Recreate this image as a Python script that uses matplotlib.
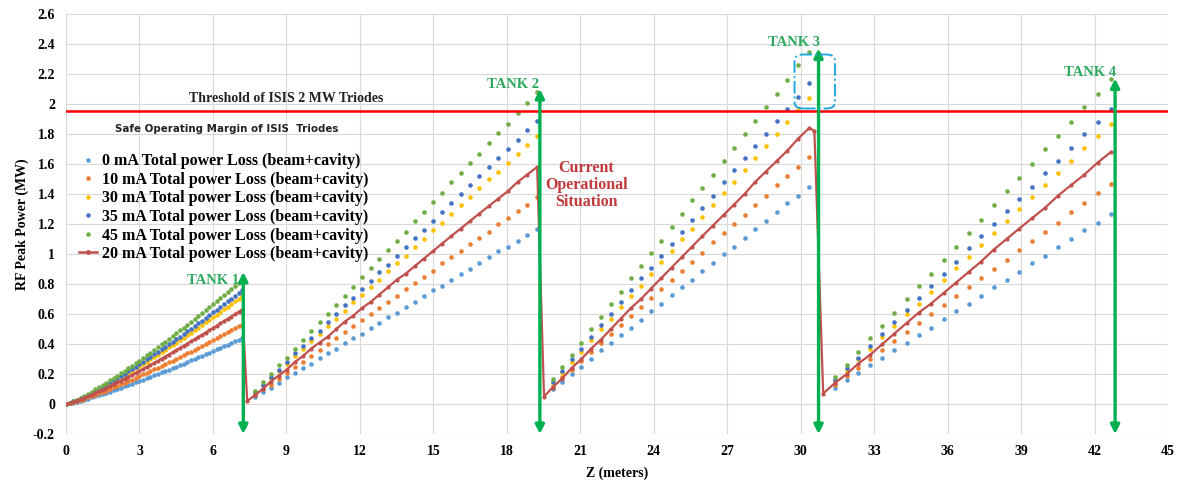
import numpy as np
import matplotlib
matplotlib.use('Agg')
import matplotlib.pyplot as plt
from matplotlib.lines import Line2D
from matplotlib.patches import FancyBboxPatch

plt.rcParams['font.family'] = ['Liberation Serif', 'DejaVu Serif']
plt.rcParams['font.weight'] = 'bold'

# ---------------- data ----------------
labels = ["0 mA Total power Loss (beam+cavity)",
          "10 mA Total power Loss (beam+cavity)",
          "30 mA Total power Loss (beam+cavity)",
          "35 mA Total power Loss (beam+cavity)",
          "45 mA Total power Loss (beam+cavity)",
          "20 mA Total power Loss (beam+cavity)"]

z_t1 = [0.00, 0.15, 0.30, 0.45, 0.60, 0.75, 0.90, 1.05, 1.20, 1.35, 1.50, 1.65, 1.80, 1.95,
        2.10, 2.25, 2.40, 2.55, 2.70, 2.85, 3.00, 3.15, 3.30, 3.45, 3.60, 3.75, 3.90, 4.05,
        4.20, 4.35, 4.50, 4.65, 4.80, 4.95, 5.10, 5.25, 5.40, 5.55, 5.70, 5.85, 6.00, 6.15,
        6.30, 6.45, 6.60, 6.75, 6.90, 7.05, 7.20]
z_t2 = [7.72, 8.04, 8.36, 8.69, 9.02, 9.35, 9.68, 10.02, 10.36, 10.70, 11.04, 11.39, 11.74,
        12.09, 12.44, 12.80, 13.16, 13.52, 13.88, 14.25, 14.62, 14.99, 15.36, 15.74, 16.12,
        16.50, 16.88, 17.27, 17.66, 18.05, 18.44, 18.84, 19.24]
z_t3 = [19.87, 20.26, 20.65, 21.05, 21.45, 21.85, 22.25, 22.66, 23.07, 23.48, 23.89, 24.31,
        24.73, 25.15, 25.57, 25.99, 26.42, 26.85, 27.28, 27.71, 28.14, 28.58, 29.02, 29.46,
        29.90, 30.35]
z_t4 = [31.40, 31.88, 32.36, 32.85, 33.34, 33.83, 34.33, 34.83, 35.33, 35.84, 36.35, 36.86,
        37.37, 37.89, 38.41, 38.93, 39.46, 39.99, 40.52, 41.05, 41.59, 42.13, 42.67]

mA0_t1 = [0, .004, .010, .016, .022, .029, .036, .044, .051, .059, .067, .075, .083, .092,
          .100, .109, .118, .127, .136, .145, .154, .163, .173, .182, .192, .201, .211, .221,
          .230, .240, .250, .260, .270, .281, .291, .301, .312, .322, .332, .343, .354, .364,
          .375, .386, .396, .407, .418, .429, .440]
mA10_t1 = [0, .005, .012, .019, .027, .035, .044, .053, .062, .071, .081, .090, .100, .111,
           .121, .131, .142, .153, .163, .174, .185, .197, .208, .219, .231, .242, .254, .266,
           .278, .289, .302, .314, .326, .338, .350, .363, .375, .388, .400, .413, .426, .439,
           .452, .464, .477, .491, .504, .517, .530]
mA30_t1 = [0, .007, .016, .026, .037, .048, .059, .071, .084, .097, .110, .123, .136, .150,
           .164, .178, .193, .207, .222, .237, .252, .267, .282, .298, .313, .329, .345, .361,
           .377, .393, .410, .426, .443, .459, .476, .493, .510, .527, .544, .561, .579, .596,
           .613, .631, .649, .666, .684, .702, .720]
mA35_t1 = [0, .007, .017, .027, .039, .050, .063, .075, .089, .102, .116, .130, .144, .159,
           .173, .188, .203, .219, .234, .250, .266, .282, .298, .314, .331, .347, .364, .381,
           .398, .415, .432, .450, .467, .485, .502, .520, .538, .556, .574, .592, .611, .629,
           .648, .666, .685, .703, .722, .741, .760]
mA45_t1 = [0, .008, .018, .030, .042, .055, .069, .082, .097, .111, .126, .142, .157, .173,
           .189, .206, .222, .239, .256, .273, .290, .308, .325, .343, .361, .379, .398, .416,
           .435, .453, .472, .491, .510, .530, .549, .568, .588, .607, .627, .647, .667, .687,
           .707, .727, .748, .768, .789, .809, .830]

mA0_t2 = [.05, .08, .11, .14, .18, .21, .24, .27, .31, .34, .37, .41, .44, .47, .51, .54, .58,
          .61, .65, .68, .72, .76, .79, .83, .87, .90, .94, .98, 1.02, 1.05, 1.09, 1.13, 1.17]
mA10_t2 = [.06, .10, .13, .17, .21, .25, .28, .32, .36, .40, .44, .48, .52, .56, .60, .64, .68,
           .72, .77, .81, .85, .89, .94, .98, 1.02, 1.07, 1.11, 1.15, 1.20, 1.24, 1.29, 1.33, 1.38]
mA30_t2 = [.08, .13, .17, .22, .27, .32, .37, .42, .47, .52, .57, .62, .68, .73, .78, .83, .89,
           .94, .99, 1.05, 1.10, 1.16, 1.21, 1.27, 1.33, 1.38, 1.44, 1.50, 1.55, 1.61, 1.67, 1.73, 1.79]
mA35_t2 = [.08, .13, .18, .23, .28, .34, .39, .44, .49, .55, .60, .66, .71, .77, .82, .88, .93,
           .99, 1.05, 1.11, 1.16, 1.22, 1.28, 1.34, 1.40, 1.46, 1.52, 1.58, 1.64, 1.70, 1.76, 1.83, 1.89]
mA45_t2 = [.09, .15, .20, .26, .31, .37, .43, .49, .55, .60, .66, .72, .78, .85, .91, .97, 1.03,
           1.09, 1.15, 1.22, 1.28, 1.35, 1.41, 1.48, 1.54, 1.61, 1.67, 1.74, 1.81, 1.87, 1.94, 2.01, 2.08]

mA0_t3 = [.10, .15, .20, .25, .30, .36, .41, .46, .51, .56, .62, .67, .73, .78, .83, .89, .94,
          1.00, 1.05, 1.11, 1.17, 1.22, 1.28, 1.34, 1.39, 1.45]
mA10_t3 = [.12, .18, .23, .29, .35, .41, .47, .53, .59, .65, .71, .77, .83, .89, .95, 1.01, 1.08,
           1.14, 1.20, 1.26, 1.33, 1.39, 1.46, 1.52, 1.58, 1.65]
mA30_t3 = [.14, .21, .28, .35, .43, .50, .57, .65, .72, .79, .87, .95, 1.02, 1.10, 1.17, 1.25,
           1.33, 1.41, 1.48, 1.56, 1.64, 1.72, 1.80, 1.88, 1.96, 2.04]
mA35_t3 = [.15, .22, .30, .37, .45, .53, .60, .68, .76, .84, .91, .99, 1.07, 1.15, 1.23, 1.31,
           1.39, 1.48, 1.56, 1.64, 1.72, 1.80, 1.89, 1.97, 2.05, 2.14]
mA45_t3 = [.17, .25, .33, .41, .50, .58, .67, .75, .84, .92, 1.01, 1.09, 1.18, 1.27, 1.36, 1.44,
           1.53, 1.62, 1.71, 1.80, 1.89, 1.98, 2.07, 2.16, 2.26, 2.35]

mA0_t4 = [.11, .16, .21, .26, .31, .36, .41, .46, .51, .57, .62, .67, .72, .78, .83, .88, .94,
          .99, 1.05, 1.10, 1.16, 1.21, 1.27]
mA10_t4 = [.13, .19, .24, .30, .36, .42, .48, .54, .60, .66, .72, .78, .84, .90, .96, 1.03, 1.09,
           1.15, 1.21, 1.28, 1.34, 1.41, 1.47]
mA30_t4 = [.15, .22, .30, .37, .45, .52, .60, .67, .75, .83, .91, .98, 1.06, 1.14, 1.22, 1.30,
           1.38, 1.46, 1.54, 1.62, 1.71, 1.79, 1.87]
mA35_t4 = [.16, .24, .31, .39, .47, .55, .63, .71, .79, .87, .95, 1.04, 1.12, 1.20, 1.29, 1.37,
           1.45, 1.54, 1.62, 1.71, 1.80, 1.88, 1.97]
mA45_t4 = [.18, .26, .35, .44, .52, .61, .70, .79, .87, .96, 1.05, 1.14, 1.23, 1.33, 1.42, 1.51,
           1.60, 1.70, 1.79, 1.88, 1.98, 2.07, 2.17]

# 20 mA line (continuous across tanks)
red_z1 = z_t1
red_v1 = [0, .006, .014, .023, .032, .042, .052, .063, .073, .085, .096, .108, .119, .131,
          .144, .156, .169, .181, .194, .207, .220, .234, .247, .261, .274, .288, .302, .316,
          .330, .344, .358, .373, .387, .402, .417, .431, .446, .461, .476, .491, .506, .521,
          .537, .552, .568, .583, .599, .614, .630]
red_z2 = [7.40] + z_t2
red_v2 = [.02, .06, .10, .15, .19, .23, .28, .32, .37, .41, .45, .50, .55, .59, .64, .68, .73,
          .78, .83, .87, .92, .97, 1.02, 1.07, 1.12, 1.17, 1.22, 1.27, 1.32, 1.37, 1.42, 1.48, 1.53, 1.58]
red_z3 = [19.52] + z_t3 + [30.56]
red_v3 = [.05, .11, .17, .24, .30, .37, .43, .50, .57, .64, .70, .77, .84, .91, .98, 1.05, 1.12,
          1.19, 1.26, 1.33, 1.40, 1.48, 1.55, 1.62, 1.69, 1.77, 1.84, 1.82]
red_z4 = [30.92] + z_t4
red_v4 = [.07, .14, .20, .27, .33, .40, .47, .54, .61, .67, .74, .81, .88, .95, 1.03, 1.10, 1.17,
          1.24, 1.31, 1.39, 1.46, 1.53, 1.61, 1.68]

threshold = 1.955
safe_margin = 1.74

# ---------------- figure ----------------
W, H = 1181, 487
fig = plt.figure(figsize=(W / 100, H / 100), dpi=100)
ax = fig.add_axes([66 / W, 1 - 434 / H, (1168 - 66) / W, (434 - 14) / H])

colors = ['#5B9BD5', '#ED7D31', '#FFC000', '#4472C4', '#70AD47']
red_c = '#C0504D'
green_c = '#00B050'

z_all = np.concatenate([z_t1, z_t2, z_t3, z_t4])
series = [
    np.concatenate([mA0_t1, mA0_t2, mA0_t3, mA0_t4]),
    np.concatenate([mA10_t1, mA10_t2, mA10_t3, mA10_t4]),
    np.concatenate([mA30_t1, mA30_t2, mA30_t3, mA30_t4]),
    np.concatenate([mA35_t1, mA35_t2, mA35_t3, mA35_t4]),
    np.concatenate([mA45_t1, mA45_t2, mA45_t3, mA45_t4]),
]
for v, c in zip(series, colors):
    ax.plot(z_all, v, ls='none', marker='o', ms=3.3, mec='none', color=c, zorder=3)

red_z = np.concatenate([red_z1, red_z2, red_z3, red_z4])
red_v = np.concatenate([red_v1, red_v2, red_v3, red_v4])
ax.plot(red_z, red_v, color=red_c, lw=1.6, marker='o', ms=2.0, mec=red_c, zorder=4)

# horizontal reference lines
ax.axhline(threshold, color='#FF0000', lw=1.8, zorder=5)
ax.annotate('', xy=(45.1, safe_margin), xytext=(0.2, safe_margin),
            arrowprops=dict(arrowstyle='<|-|>', color='#3CB95A', lw=1.6,
                            mutation_scale=8, shrinkA=0, shrinkB=0), zorder=5)

ax.text(9.0, 2.04, 'Threshold of ISIS 2 MW Triodes', fontsize=10, ha='center', va='center',
        color='#222222')
ax.text(2.0, 1.835, 'Safe Operating Margin of ISIS  Triodes', fontsize=7.4, ha='left',
        va='center', color='#222222', family=['DejaVu Sans'], fontweight='bold')

# tank arrows
tanks = [(7.24, 0.88, 'TANK 1', 7.05, 0.82),
         (19.35, 2.10, 'TANK 2', 19.3, 2.13),
         (30.73, 2.37, 'TANK 3', 30.8, 2.41),
         (42.84, 2.17, 'TANK 4', 42.9, 2.21)]
for x, top, lab, tx, ty in tanks:
    ax.annotate('', xy=(x, top), xytext=(x, -0.2),
                arrowprops=dict(arrowstyle='<|-|>', color=green_c, lw=2.4,
                                mutation_scale=13, shrinkA=0, shrinkB=0), zorder=6)
    ax.text(tx, ty, lab, color='#2EAA5E', fontsize=10.5, ha='right', va='center', zorder=7)

ax.text(21.24, 1.46, 'Current\nOperational\nSituation', color='#C0393B', fontsize=11.5,
        ha='center', va='center', linespacing=1.05)

box = FancyBboxPatch((29.75, 1.97), 1.65, 0.36, boxstyle='round,pad=0,rounding_size=0.35',
                     mutation_aspect=0.12, fill=False, ec='#1FA8E0', lw=1.4, ls='-.', zorder=6)
ax.add_patch(box)

# axes
ax.set_xlim(0, 45)
ax.set_ylim(-0.2, 2.6)
ax.set_xticks(np.arange(0, 46, 3))
yt = np.round(np.arange(-0.2, 2.61, 0.2), 1)
ax.set_yticks(yt)
ax.set_yticklabels(['%g' % v for v in yt])
ax.grid(True, color='#D9D9D9', lw=0.8, zorder=0)
ax.set_axisbelow(True)
for s in ax.spines.values():
    s.set_visible(False)
ax.tick_params(length=0, labelsize=10, pad=8)
for lab in ax.get_xticklabels() + ax.get_yticklabels():
    lab.set_fontweight('bold')
ax.set_xlabel('Z (meters)', fontsize=10, fontweight='bold', labelpad=6)
ax.set_ylabel('RF Peak Power (MW)', fontsize=10, fontweight='bold', labelpad=3)

handles = [Line2D([], [], ls='none', marker='o', ms=3.3, mec='none', color=c) for c in colors]
handles.append(Line2D([], [], color=red_c, lw=1.8, marker='o', ms=2.5))
leg = ax.legend(handles, labels, loc='upper left', bbox_to_anchor=(0.002, 0.695), frameon=False,
                handlelength=1.1, handletextpad=0.3, labelspacing=0.16,
                borderpad=0.2, prop={'weight': 'bold', 'size': 11.5})

fig.savefig('out.png', dpi=100, facecolor='white')
